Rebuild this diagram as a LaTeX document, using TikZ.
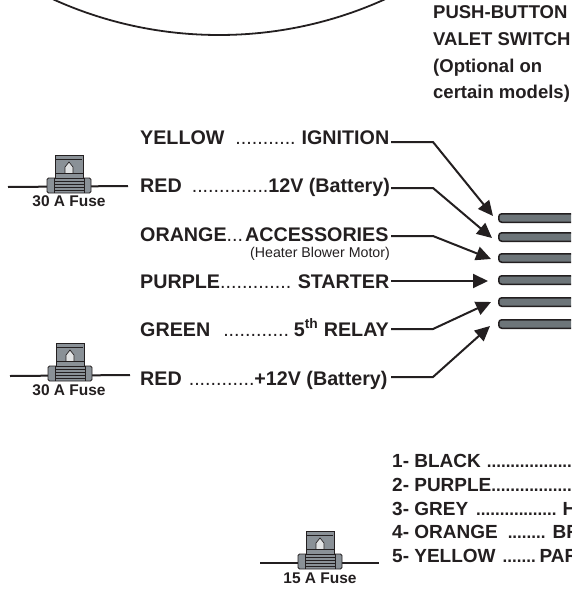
\documentclass[tikz,border=0pt]{standalone}
\usepackage{fontspec}
\setmainfont{Liberation Sans}
\usetikzlibrary{arrows.meta}
\definecolor{ink}{HTML}{231F20}
\definecolor{fusegray}{HTML}{8A9197}
\definecolor{bargray}{HTML}{6D7579}
\newcommand{\bt}{\fontsize{18.5}{18.5}\selectfont\bfseries}
\newcommand{\lt}{\fontsize{19.7}{19.7}\selectfont\bfseries}
\newcommand{\mt}{\fontsize{19}{19}\selectfont\bfseries}
\newcommand{\ft}{\fontsize{15.5}{15.5}\selectfont\bfseries}
\newcommand{\rg}[1]{{\mdseries #1}}
\newcommand{\sd}[1]{{\fontsize{17}{17}\selectfont #1}}
\newcommand{\g}[1]{\hspace{#1pt}}
\tikzset{
  x=1pt,y=-1pt,
  lab/.style={anchor=base west,inner sep=0pt,text=ink},
  wire/.style={draw=ink,line width=2pt},
  conn/.style={draw=ink,line width=2pt,-{Triangle[length=15pt,width=14pt]}},
  barbox/.style={draw=ink,line width=1.5pt,fill=bargray,rounded corners=3pt},
  fusebody/.style={draw=ink,line width=.8pt,fill=fusegray},
  fuselabel/.style={anchor=base,inner sep=0pt,text=ink,font=\ft},
  fuse/.pic={
    \path[fusebody] (-14,-10) -- (-14,-32) -- (14,-32) -- (14,-10) -- cycle;
    \path[draw=ink,fill=white!75!fusegray,line width=.7pt] (-4,-11) -- (-4,-20) -- (0,-25) -- (4,-20) -- (4,-11) -- cycle;
    \draw[ink,line width=1pt] (-13,-28) -- (13,-28);
    \path[fusebody,rounded corners=1.5pt] (-22,6) -- (-22,-9) -- (22,-9) -- (22,6) -- cycle;
    \path[fusebody] (-14,-9) -- (-14,-14) -- (14,-14) -- (14,-9) -- cycle;
    \foreach \yy in {-6,-3,0,3}{\draw[ink,line width=.8pt] (-15,\yy) -- (15,\yy);}
    \draw[ink,line width=.8pt] (-15,-9) -- (-15,6) (15,-9) -- (15,6);
  }
}
\begin{document}
\begin{tikzpicture}
\useasboundingbox (0,0) rectangle (571,589);
\clip (0,0) rectangle (571,589);
% top arc
\draw[ink,line width=1.8pt] (219,-367) circle[radius=402];
% valet text
\node[lab,font=\bt] (v1) at (433,19) {PUSH-BUTTON};
\node[lab,font=\bt] (v2) at (433,45.5) {VALET SWITCH};
\node[lab,font=\bt] (v3) at (433,72) {(Optional on};
\node[lab,font=\bt] (v4) at (433,98) {certain models)};
% labels
\node[lab,font=\lt] (l1) at (140,144) {YELLOW\g{11}\rg{...........}\g{6}IGNITION};
\node[lab,font=\lt] (l2) at (140,192) {RED\g{10}\rg{..............}12V (Battery)};
\node[lab,font=\lt] (l3) at (140,241.5) {ORANGE\rg{...}\g{2}ACCESSORIES};
\node[lab,font=\fontsize{14.2}{14.2}\selectfont] (l3b) at (250,257) {(Heater Blower Motor)};
\node[lab,font=\lt] (l4) at (140,288) {PURPLE\rg{.............}\g{6.5}STARTER};
\node[lab,font=\lt] (l5) at (140,336) {GREEN\g{13}\rg{............}\g{5}5\textsuperscript{th} RELAY};
\node[lab,font=\lt] (l6) at (140,385) {RED\g{7}\rg{............}+12V (Battery)};
% bars
\foreach \n/\yy in {1/218,2/237,3/258,4/280,5/302,6/324}{
  \node[barbox,minimum width=90pt,minimum height=8.5pt,inner sep=0pt,anchor=west] (b\n) at (498,\yy) {};
}
% elbows and tips
\coordinate (e1) at (433,142); \coordinate (t1) at (493,216);
\coordinate (e2) at (433,188); \coordinate (t2) at (492,238);
\coordinate (e3) at (433,236); \coordinate (t3) at (491,259);
\coordinate (e4) at (433,281); \coordinate (t4) at (488,281);
\coordinate (e5) at (433,329); \coordinate (t5) at (491,302);
\coordinate (e6) at (433,377); \coordinate (t6) at (490,326);
\coordinate (s1) at (391,142);
\coordinate (s2) at (391,188);
\coordinate (s3) at (391,236);
\coordinate (s4) at (391,281);
\coordinate (s5) at (391,329);
\coordinate (s6) at (391,377);
\foreach \n in {1,2,3,5,6}{\draw[conn] (s\n) -- (e\n) -- (t\n);}
\draw[conn] (s4) -- (t4);
% fuses
\coordinate (f1a) at (8,187);  \coordinate (f1b) at (128,186);
\coordinate (f2a) at (10,376); \coordinate (f2b) at (130,375);
\coordinate (f3a) at (260,563); \coordinate (f3b) at (379,563);
\draw[wire] (f1a) -- (f1b);
\draw[wire] (f2a) -- (f2b);
\draw[wire] (f3a) -- (f3b);
\pic at (69,187) {fuse};
\pic at (70,375) {fuse};
\pic at (320,563) {fuse};
\node[fuselabel] (n1) at (69,206) {30 A Fuse};
\node[fuselabel] (n2) at (69,395) {30 A Fuse};
\node[fuselabel] (n3) at (320,583) {15 A Fuse};
% list
\node[lab,font=\mt] (c1) at (392,467) {1- BLACK\g{6}\sd{..................}};
\node[lab,font=\mt] (c2) at (392,491) {2- PURPLE\sd{.................}};
\node[lab,font=\mt] (c3) at (392,515) {3- GREY\g{8}\sd{.................}\g{6}H};
\node[lab,font=\mt] (c4) at (392,538.5) {4- ORANGE\g{10}\sd{........}\g{7}BR};
\node[lab,font=\mt] (c5) at (392,562) {5- YELLOW\g{7}\sd{.......}\g{4}PAR};
\end{tikzpicture}
\end{document}
